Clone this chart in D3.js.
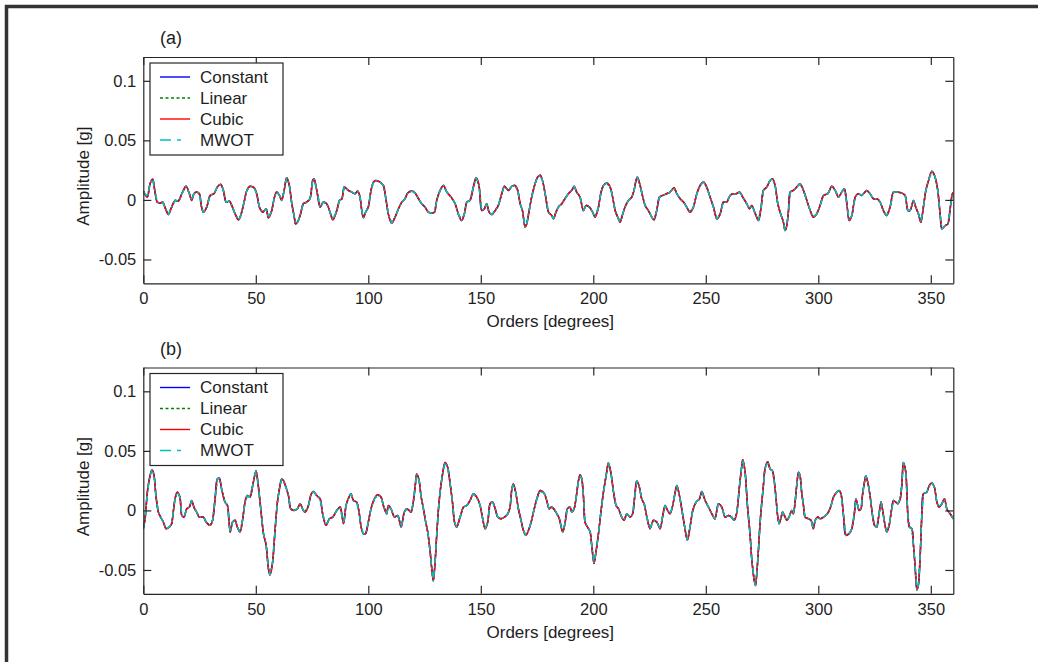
<!DOCTYPE html>
<html><head><meta charset="utf-8">
<script src="https://cdn.jsdelivr.net/npm/d3@7"></script>
<style>
body{margin:0;background:#fff}
svg{display:block}
text{font-family:"Liberation Sans",Arial,sans-serif;fill:#1e1e1e}
</style>
</head><body>
<svg id="chart" width="1038" height="662"></svg>
<script>
// ---------- data ----------
const panelLabels = ["(a)", "(b)"];
const methods = ["Constant", "Linear", "Cubic", "MWOT"];
const methodColors = ["#0000ff", "#008000", "#ff0000", "#00bfbf"];
const xTicks = [0, 50, 100, 150, 200, 250, 300, 350];
const yTicks = [-0.05, 0, 0.05, 0.1];
const xDomain = [0, 360];
const yDomain = [-0.07, 0.12];
const xLabel = "Orders [degrees]";
const yLabel = "Amplitude [g]";

// [order (deg), amplitude (g)]
const signalA = [[0,0.0074],[1.8,0.0024],[3.0,0.0136],[4.2,0.0173],[5.2,0.0066],[6.2,-0.0018],[7.4,-0.0027],[8.6,-0.0018],[9.6,-0.0060],[11.1,-0.0122],[12.6,-0.0060],[14.1,-0.0004],[15.6,-0.0010],[17.1,0.0052],[19.0,0.0114],[20.5,0.0052],[21.5,-0.0004],[22.5,0.0052],[23.7,0.0066],[24.9,0.0052],[25.9,-0.0060],[26.7,-0.0103],[28.2,-0.0060],[29.7,0.0038],[31.4,0.0052],[32.9,0.0108],[34.4,0.0131],[35.6,0.0080],[36.8,-0.0018],[38.3,-0.0010],[39.3,-0.0046],[40.8,-0.0117],[42.3,-0.0167],[43.3,-0.0131],[44.8,-0.0018],[46.0,0.0080],[47.4,0.0114],[49.2,0.0103],[50.4,0.0052],[51.6,-0.0060],[53.1,-0.0103],[54.6,-0.0074],[55.6,-0.0150],[57.1,-0.0089],[58.3,0.0024],[59.3,0.0066],[60.5,0.0038],[61.5,-0.0004],[62.6,0.0080],[63.7,0.0187],[64.9,0.0122],[66.0,-0.0032],[67.0,-0.0131],[67.7,-0.0201],[68.9,-0.0173],[69.9,-0.0117],[71.1,-0.0032],[72.6,-0.0018],[74.1,0.0010],[75.3,0.0164],[75.9,0.0178],[77.1,0.0080],[78.6,-0.0060],[80.0,-0.0018],[81.5,-0.0032],[83.0,-0.0103],[84.2,-0.0167],[86.0,-0.0089],[87.2,-0.0004],[88.3,0.0010],[89.3,0.0108],[91.1,0.0080],[92.6,0.0066],[94.1,0.0052],[95.3,0.0074],[96.3,0.0024],[97.1,-0.0089],[97.8,-0.0150],[98.8,-0.0103],[100.0,-0.0060],[101.2,0.0080],[102.3,0.0150],[103.3,0.0164],[105.2,0.0150],[106.7,0.0122],[107.7,0.0024],[108.9,-0.0117],[110.4,-0.0195],[111.9,-0.0145],[113.4,-0.0074],[114.9,-0.0018],[116.3,0.0010],[117.5,0.0058],[119.3,0.0074],[120.8,0.0058],[122.3,0.0010],[123.7,-0.0032],[125.2,-0.0060],[126.7,-0.0103],[127.9,-0.0111],[129.4,-0.0103],[130.4,-0.0004],[131.9,0.0080],[133.4,0.0122],[134.9,0.0066],[136.8,0.0024],[138.6,-0.0032],[140.0,-0.0117],[141.5,-0.0173],[142.7,-0.0117],[143.8,-0.0018],[145.2,-0.0004],[146.7,0.0108],[147.9,0.0187],[149.2,0.0122],[150.4,-0.0089],[151.6,-0.0074],[152.6,-0.0032],[153.7,-0.0103],[154.9,-0.0122],[156.4,-0.0089],[157.8,-0.0046],[159.3,0.0052],[160.5,0.0114],[162.3,0.0080],[163.8,0.0114],[165.2,0.0122],[166.4,0.0080],[167.5,-0.0032],[168.5,-0.0089],[169.7,-0.0229],[170.4,-0.0201],[171.5,-0.0089],[172.6,0.0024],[174.1,0.0136],[175.3,0.0193],[176.4,0.0207],[177.4,0.0164],[178.6,0.0052],[180.1,-0.0103],[181.5,-0.0130],[182.3,-0.0159],[183.4,-0.0103],[184.5,-0.0060],[186.0,-0.0032],[187.4,0.0010],[188.9,0.0052],[190.4,0.0080],[191.5,0.0114],[192.6,0.0066],[194.1,0.0024],[195.6,-0.0089],[196.8,-0.0046],[198.3,-0.0060],[199.7,-0.0103],[200.8,-0.0145],[202.3,-0.0060],[203.3,0.0052],[204.5,0.0122],[206.0,0.0142],[207.5,0.0108],[208.6,0.0024],[209.7,-0.0089],[211.2,-0.0159],[211.9,-0.0187],[213.1,-0.0117],[214.1,-0.0060],[215.6,-0.0004],[217.1,0.0024],[218.1,0.0080],[219.0,0.0164],[219.6,0.0193],[220.8,0.0122],[222.0,0.0024],[223.0,-0.0046],[224.5,-0.0089],[226.0,-0.0145],[227.0,-0.0167],[228.2,-0.0089],[229.4,0.0024],[230.9,0.0038],[232.6,0.0052],[234.1,0.0066],[235.9,0.0103],[237.1,0.0052],[238.6,0.0010],[240.1,-0.0018],[241.5,-0.0060],[243.0,-0.0103],[244.5,-0.0060],[246.0,0.0052],[247.5,0.0122],[249.0,0.0150],[250.4,0.0108],[251.9,0.0024],[253.4,-0.0060],[254.9,-0.0159],[256.4,-0.0117],[257.8,-0.0018],[259.3,-0.0018],[260.8,0.0038],[262.0,0.0052],[263.5,0.0052],[265.0,0.0066],[266.4,0.0024],[268.2,-0.0032],[269.4,-0.0074],[270.4,-0.0046],[271.9,-0.0110],[273.4,-0.0173],[274.6,-0.0060],[275.6,0.0080],[277.1,0.0108],[278.6,0.0164],[279.6,0.0178],[280.8,0.0122],[282.0,-0.0032],[283.5,-0.0131],[284.5,-0.0187],[285.2,-0.0257],[286.0,-0.0215],[286.7,-0.0103],[287.5,0.0066],[288.9,0.0080],[290.4,0.0108],[291.9,0.0136],[293.4,0.0080],[294.9,-0.0004],[296.4,-0.0089],[297.8,-0.0145],[299.3,-0.0117],[300.8,-0.0046],[302.3,0.0038],[304.2,0.0052],[306.0,0.0114],[307.5,0.0080],[309.0,0.0024],[310.4,0.0066],[311.6,0.0094],[312.7,-0.0032],[313.7,-0.0173],[314.9,-0.0131],[316.4,0.0024],[317.8,0.0052],[319.3,0.0038],[321.5,0.0080],[323.0,0.0052],[324.5,0.0010],[326.0,0.0010],[327.5,-0.0018],[328.9,-0.0089],[330.4,-0.0131],[331.9,-0.0060],[333.4,0.0066],[334.9,0.0066],[337.1,0.0058],[338.6,0.0038],[339.8,-0.0089],[340.8,-0.0089],[342.3,-0.0004],[343.3,-0.0060],[344.5,-0.0117],[345.6,-0.0187],[346.7,-0.0060],[347.8,0.0080],[349.0,0.0164],[350.5,0.0240],[351.9,0.0193],[353.1,0.0080],[354.2,-0.0131],[354.9,-0.0243],[356.4,-0.0215],[357.6,-0.0201],[358.6,-0.0074],[359.6,0.0052],[360,0.0060]];

const signalB = [[0,-0.0153],[0.8,-0.0070],[1.8,0.0153],[3.0,0.0292],[3.9,0.0342],[4.8,0.0292],[5.6,0.0125],[6.7,-0.0014],[7.7,-0.0056],[8.9,-0.0097],[10.1,-0.0153],[11.6,-0.0139],[12.6,-0.0111],[13.4,0.0000],[14.1,0.0097],[15.1,0.0153],[16.3,0.0111],[17.1,-0.0042],[18.1,-0.0056],[19.3,0.0014],[20.5,0.0028],[21.5,0.0083],[22.5,0.0028],[23.7,-0.0014],[24.9,-0.0056],[26.7,-0.0056],[27.9,-0.0097],[29.7,-0.0125],[30.8,-0.0083],[31.9,0.0097],[32.9,0.0264],[33.8,0.0270],[34.8,0.0181],[36.3,0.0070],[37.4,0.0042],[38.6,-0.0181],[39.7,-0.0097],[40.8,-0.0083],[41.8,-0.0139],[43.0,-0.0181],[44.2,-0.0070],[45.2,0.0070],[46.3,0.0125],[47.4,0.0111],[48.9,0.0236],[50.1,0.0334],[51.1,0.0209],[52.2,0.0014],[53.4,-0.0195],[54.6,-0.0292],[55.6,-0.0487],[56.3,-0.0542],[57.5,-0.0431],[58.5,-0.0181],[59.6,0.0070],[60.5,0.0181],[61.5,0.0264],[62.3,0.0250],[63.4,0.0195],[64.5,0.0125],[65.5,0.0014],[67.0,0.0000],[68.5,0.0014],[69.7,0.0056],[71.1,0.0000],[71.9,-0.0014],[73.4,0.0042],[74.4,0.0125],[75.6,0.0158],[77.1,0.0125],[78.6,0.0097],[79.7,-0.0028],[81.2,-0.0125],[82.7,-0.0070],[84.2,-0.0056],[86.0,0.0000],[87.5,0.0028],[89.0,-0.0111],[90.1,0.0042],[91.4,0.0111],[92.3,0.0139],[93.4,0.0083],[94.8,0.0070],[95.9,-0.0014],[96.8,-0.0139],[97.8,-0.0195],[98.8,-0.0195],[100.0,-0.0097],[101.2,0.0014],[102.7,0.0097],[104.2,0.0131],[105.7,0.0111],[106.7,0.0042],[108.2,-0.0028],[108.9,0.0042],[110.1,0.0014],[111.6,-0.0056],[113.1,-0.0042],[114.6,-0.0139],[116.0,-0.0014],[117.1,0.0014],[118.1,0.0000],[119.0,-0.0014],[120.0,0.0070],[120.8,0.0195],[121.5,0.0306],[122.6,0.0250],[123.4,0.0125],[124.5,0.0014],[125.5,-0.0097],[126.4,-0.0181],[127.5,-0.0348],[128.2,-0.0487],[128.9,-0.0592],[129.7,-0.0431],[130.4,-0.0209],[131.2,0.0014],[131.9,0.0153],[132.9,0.0292],[134.1,0.0403],[135.3,0.0361],[136.3,0.0236],[137.4,0.0070],[138.3,-0.0097],[139.3,-0.0139],[140.8,-0.0056],[142.3,0.0028],[143.8,0.0042],[145.2,0.0083],[146.7,0.0139],[148.2,0.0111],[149.7,0.0042],[150.7,-0.0056],[151.9,-0.0153],[153.1,-0.0097],[154.1,0.0056],[155.2,0.0070],[156.4,0.0014],[157.5,-0.0056],[159.0,-0.0070],[160.5,-0.0056],[162.0,-0.0028],[163.0,0.0028],[163.8,0.0181],[164.5,0.0222],[165.5,0.0153],[166.7,0.0014],[167.9,-0.0083],[168.9,-0.0167],[170.0,-0.0209],[171.2,-0.0167],[172.4,-0.0097],[173.4,-0.0014],[174.9,0.0097],[176.4,0.0167],[178.3,0.0139],[179.3,0.0083],[180.4,0.0014],[181.5,0.0028],[183.4,-0.0014],[184.9,-0.0070],[186.4,-0.0181],[187.4,-0.0111],[188.5,0.0014],[189.7,0.0028],[190.4,-0.0014],[191.5,0.0014],[192.3,0.0097],[193.4,0.0250],[194.1,0.0297],[194.9,0.0264],[195.6,0.0125],[196.3,-0.0097],[197.4,-0.0139],[198.6,-0.0181],[199.3,-0.0292],[200.3,-0.0445],[201.2,-0.0348],[202.3,-0.0195],[203.3,-0.0028],[204.5,0.0153],[205.7,0.0292],[206.7,0.0398],[207.8,0.0320],[209.0,0.0153],[210.1,0.0042],[211.2,0.0014],[212.6,-0.0056],[213.7,-0.0083],[214.9,-0.0028],[216.3,-0.0056],[217.5,-0.0028],[218.3,0.0097],[219.3,0.0250],[220.5,0.0195],[221.5,0.0097],[222.6,0.0056],[223.8,-0.0056],[225.2,-0.0153],[226.7,-0.0083],[228.2,-0.0097],[229.7,-0.0153],[230.9,-0.0042],[231.9,0.0042],[233.0,0.0000],[234.1,-0.0028],[235.3,0.0042],[236.4,0.0153],[237.1,0.0209],[238.3,0.0125],[239.3,0.0014],[240.5,-0.0125],[241.8,-0.0250],[243.0,-0.0139],[244.2,0.0000],[245.7,0.0070],[247.2,0.0097],[248.2,0.0158],[249.7,0.0083],[251.2,0.0028],[252.7,-0.0028],[254.1,-0.0070],[255.6,0.0056],[257.1,0.0028],[258.6,-0.0056],[260.1,-0.0042],[261.5,-0.0056],[262.6,-0.0083],[263.8,-0.0014],[265.0,0.0209],[266.0,0.0375],[266.4,0.0425],[267.5,0.0320],[268.5,0.0042],[269.7,-0.0209],[270.4,-0.0403],[271.5,-0.0584],[272.1,-0.0631],[272.7,-0.0520],[273.4,-0.0330],[274.1,-0.0110],[274.9,0.0070],[275.6,0.0209],[276.3,0.0348],[277.5,0.0409],[278.6,0.0348],[279.6,0.0334],[280.5,0.0236],[281.1,0.0125],[282.0,-0.0056],[282.6,-0.0111],[283.5,-0.0056],[284.1,-0.0014],[284.9,-0.0042],[286.0,-0.0083],[287.0,-0.0056],[288.2,0.0000],[288.9,-0.0028],[289.7,0.0070],[290.4,0.0209],[291.2,0.0320],[291.9,0.0292],[292.6,0.0153],[293.4,0.0042],[294.1,-0.0056],[295.6,-0.0070],[296.8,-0.0083],[297.8,-0.0153],[298.6,-0.0083],[299.8,-0.0056],[300.8,-0.0070],[302.3,-0.0056],[303.3,-0.0042],[304.5,-0.0014],[305.7,0.0042],[306.7,0.0111],[308.2,0.0153],[309.2,0.0167],[310.1,0.0139],[311.2,-0.0042],[312.2,-0.0209],[313.7,-0.0195],[314.9,-0.0153],[316.1,-0.0014],[316.7,0.0097],[317.5,0.0042],[318.1,0.0000],[319.0,0.0014],[319.6,0.0125],[320.5,0.0236],[321.1,0.0292],[322.0,0.0236],[323.0,0.0125],[324.1,-0.0042],[325.0,-0.0125],[326.0,-0.0139],[327.0,-0.0028],[327.9,0.0070],[328.5,0.0014],[329.4,-0.0097],[330.4,-0.0181],[331.5,-0.0125],[332.4,-0.0014],[333.4,0.0083],[334.4,0.0070],[335.3,0.0056],[336.4,0.0097],[337.1,0.0209],[337.8,0.0403],[338.9,0.0320],[339.8,-0.0042],[340.5,-0.0139],[341.6,-0.0153],[342.3,-0.0292],[343.0,-0.0459],[343.8,-0.0667],[344.5,-0.0625],[345.3,-0.0375],[346.0,-0.0042],[346.7,0.0139],[348.2,0.0153],[349.3,0.0209],[350.4,0.0231],[351.6,0.0195],[352.7,0.0070],[353.7,0.0028],[354.9,0.0056],[356.1,0.0097],[357.1,0.0014],[358.6,-0.0028],[360,-0.0070]];

// ---------- styles / layout ----------
const methodDash = [null, "2,2", null, "6,3,1.5,3"];
const methodCurve = [d3.curveCatmullRom, d3.curveLinear, d3.curveMonotoneX, d3.curveLinear];
const axisColor = "#262626";
const plotLeft = 143.3, plotWidth = 810, plotHeight = 226.3;
const panels = [
  {top: 57, label: panelLabels[0], data: signalA},
  {top: 367.5, label: panelLabels[1], data: signalB}
];

const svg = d3.select("#chart");
svg.append("rect").attr("width", 1038).attr("height", 662).attr("fill", "#ffffff");

// outer frame (top and left thick border)
svg.append("path")
  .attr("d", "M6.5,662 L6.5,6.5 L1038,6.5")
  .attr("fill", "none").attr("stroke", "#333333").attr("stroke-width", 3.5);

const fmt = d => String(d);

panels.forEach((p, pi) => {
  const x = d3.scaleLinear().domain(xDomain).range([plotLeft, plotLeft + plotWidth]);
  const y = d3.scaleLinear().domain(yDomain).range([p.top + plotHeight, p.top]);
  const g = svg.append("g");

  const clipId = "clip" + pi;
  svg.append("clipPath").attr("id", clipId)
    .append("rect").attr("x", plotLeft).attr("y", p.top).attr("width", plotWidth).attr("height", plotHeight);

  // series
  const lines = g.append("g").attr("clip-path", `url(#${clipId})`);
  methods.forEach((m, mi) => {
    const line = d3.line().x(d => x(d[0])).y(d => y(d[1])).curve(methodCurve[mi]);
    lines.append("path")
      .datum(p.data)
      .attr("d", line)
      .attr("fill", "none")
      .attr("stroke", methodColors[mi])
      .attr("stroke-width", 1.5)
      .attr("stroke-dasharray", methodDash[mi])
      .attr("stroke-linejoin", "round");
  });

  // axes
  const styleAxis = sel => {
    sel.selectAll(".domain").attr("stroke", axisColor).attr("stroke-width", 1.2);
    sel.selectAll(".tick line").attr("stroke", axisColor).attr("stroke-width", 1.2);
    sel.selectAll(".tick text").attr("fill", "#1e1e1e").style("font-size", "16.5px")
      .style("font-family", '"Liberation Sans", Arial, sans-serif');
  };
  g.append("g").attr("transform", `translate(0,${p.top + plotHeight})`)
    .call(d3.axisBottom(x).tickValues(xTicks).tickFormat(fmt).tickSizeInner(-8).tickSizeOuter(0).tickPadding(9))
    .call(styleAxis);
  g.append("g").attr("transform", `translate(0,${p.top})`)
    .call(d3.axisTop(x).tickValues(xTicks).tickFormat("").tickSizeInner(-8).tickSizeOuter(0))
    .call(styleAxis);
  g.append("g").attr("transform", `translate(${plotLeft},0)`)
    .call(d3.axisLeft(y).tickValues(yTicks).tickFormat(fmt).tickSizeInner(-8).tickSizeOuter(0).tickPadding(7))
    .call(styleAxis);
  g.append("g").attr("transform", `translate(${plotLeft + plotWidth},0)`)
    .call(d3.axisRight(y).tickValues(yTicks).tickFormat("").tickSizeInner(-8).tickSizeOuter(0))
    .call(styleAxis);

  // labels
  g.append("text").attr("x", 160).attr("y", p.top - 13).style("font-size", "18px").text(p.label);
  g.append("text").attr("x", plotLeft + plotWidth / 2 + 2).attr("y", p.top + plotHeight + 44)
    .attr("text-anchor", "middle").style("font-size", "17px").text(xLabel);
  g.append("text")
    .attr("transform", `translate(89,${p.top + plotHeight / 2 + 6}) rotate(-90)`)
    .attr("text-anchor", "middle").style("font-size", "17px").text(yLabel);

  // legend
  const lg = g.append("g").attr("transform", `translate(150,${p.top + 6})`);
  lg.append("rect").attr("width", 133).attr("height", 92)
    .attr("fill", "#ffffff").attr("stroke", axisColor).attr("stroke-width", 1.2);
  methods.forEach((m, mi) => {
    const yy = 14 + mi * 21;
    lg.append("line").attr("x1", 10).attr("x2", 40).attr("y1", yy).attr("y2", yy)
      .attr("stroke", methodColors[mi]).attr("stroke-width", 1.4)
      .attr("stroke-dasharray", methodDash[mi] ? (mi === 1 ? "3,2.5" : "11,6,4,30") : null);
    lg.append("text").attr("x", 50).attr("y", yy).attr("dy", "0.35em")
      .style("font-size", "17px").text(m);
  });
});
</script>
</body></html>
